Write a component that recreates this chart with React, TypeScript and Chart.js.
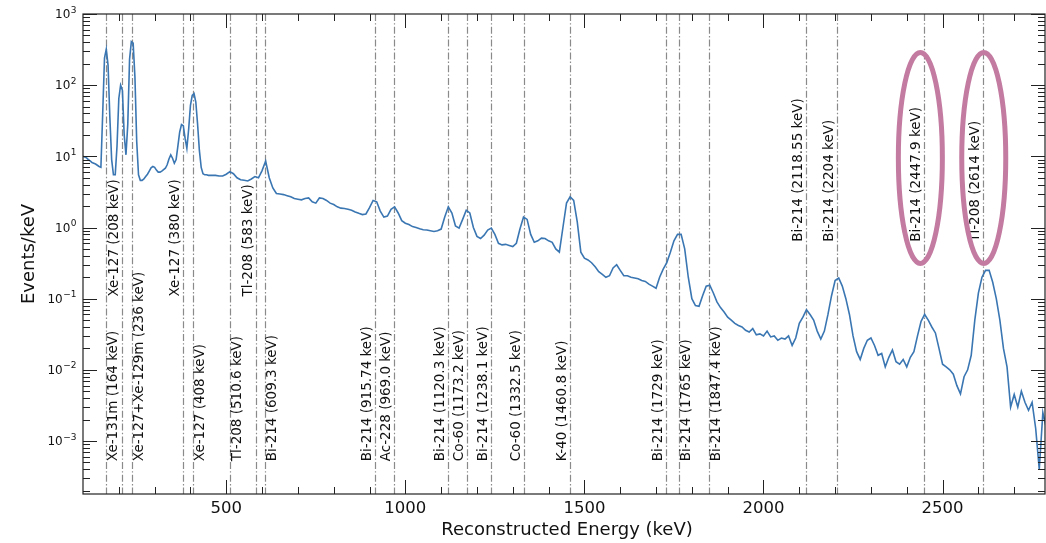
import React, { useEffect, useRef } from "react";
import { Chart, registerables } from "chart.js";

Chart.register(...registerables);

const FONT = "'DejaVu Sans', 'Liberation Sans', sans-serif";
const LINE_COLOR = "#3a76b2";
const MARK_COLOR = "#8a8a8a";
const ELLIPSE_COLOR = "rgb(195,123,161)";

// Energy bin centres (keV)
const energyKeV = [
  100, 105, 110, 115, 120, 125, 130, 135, 140, 145,
  150, 155, 160, 165, 170, 175, 180, 185, 190, 195,
  200, 205, 210, 215, 220, 225, 230, 235, 240, 245,
  250, 255, 260, 265, 270, 275, 280, 285, 290, 295,
  300, 305, 310, 315, 320, 325, 330, 335, 340, 345,
  350, 355, 360, 365, 370, 375, 380, 385, 390, 395,
  400, 405, 410, 415, 420, 425, 430, 435, 440, 445,
  450,
  460, 470, 480, 490, 500, 510, 520, 530, 540, 550,
  560, 570, 580, 590, 600, 610, 620, 630, 640, 650,
  660, 670, 680, 690, 700, 710, 720, 730, 740, 750,
  760, 770, 780, 790, 800, 810, 820, 830, 840, 850,
  860, 870, 880, 890, 900, 910, 920, 930, 940, 950,
  960, 970, 980, 990, 1000, 1010, 1020, 1030, 1040, 1050,
  1060, 1070, 1080, 1090, 1100, 1110, 1120, 1130, 1140, 1150,
  1160, 1170, 1180, 1190, 1200, 1210, 1220, 1230, 1240, 1250,
  1260, 1270, 1280, 1290, 1300, 1310, 1320, 1330, 1340, 1350,
  1360, 1370, 1380, 1390, 1400, 1410, 1420, 1430, 1440, 1450,
  1460, 1470, 1480, 1490, 1500, 1510, 1520, 1530, 1540, 1550,
  1560, 1570, 1580, 1590, 1600, 1610, 1620, 1630, 1640, 1650,
  1660, 1670, 1680, 1690, 1700, 1710, 1720, 1730, 1740, 1750,
  1760, 1770, 1780, 1790, 1800, 1810, 1820, 1830, 1840, 1850,
  1860, 1870, 1880, 1890, 1900, 1910, 1920, 1930, 1940, 1950,
  1960, 1970, 1980, 1990, 2000, 2010, 2020, 2030, 2040, 2050,
  2060, 2070, 2080, 2090, 2100, 2110, 2120, 2130, 2140, 2150,
  2160, 2170, 2180, 2190, 2200, 2210, 2220, 2230, 2240, 2250,
  2260, 2270, 2280, 2290, 2300, 2310, 2320, 2330, 2340, 2350,
  2360, 2370, 2380, 2390, 2400, 2410, 2420, 2430, 2440, 2450,
  2460, 2470, 2480, 2490, 2500, 2510, 2520, 2530, 2540, 2550,
  2560, 2570, 2580, 2590, 2600, 2610, 2620, 2630, 2640, 2650,
  2660, 2670, 2680, 2690, 2700, 2710, 2720, 2730, 2740, 2750,
  2760, 2770, 2780, 2790,
];

// Events per keV in each bin
const eventsPerKeV = [
  10, 9.8, 9.5, 9.0, 8.6, 8.2, 8.0, 7.8, 7.5, 7.2,
  7.0, 40, 240, 320, 190, 35, 9.0, 5.5, 5.5, 14,
  65, 100, 85, 20, 10.5, 28, 230, 410, 390, 130,
  16, 5.5, 4.6, 4.6, 4.8, 5.2, 5.6, 6.2, 6.9, 7.2,
  7.0, 6.4, 6.0, 6.0, 6.2, 6.5, 6.8, 7.6, 9.2, 10.5,
  9.4, 8.0, 9.0, 14, 22, 28, 27, 18, 13, 24,
  52, 72, 76, 58, 28, 12, 7.0, 5.7, 5.5, 5.5,
  5.4,
  5.4, 5.4, 5.3, 5.3, 5.6, 6.1, 5.7, 5.0, 4.7, 4.6,
  4.5, 4.8, 5.2, 5.0, 6.3, 8.6, 5.0, 3.6, 3.0, 2.95,
  2.9, 2.8, 2.7, 2.55, 2.5, 2.45, 2.55, 2.6, 2.3, 2.2,
  2.6, 2.55, 2.4, 2.2, 2.1, 1.95, 1.87, 1.85, 1.8, 1.75,
  1.65, 1.58, 1.52, 1.55, 1.9, 2.4, 2.3, 1.7, 1.4, 1.45,
  1.8, 1.95, 1.6, 1.25, 1.15, 1.1, 1.03, 1.0, 0.96, 0.93,
  0.92, 0.9, 0.88, 0.9, 0.95, 1.4, 1.95, 1.6, 1.05, 0.98,
  1.3, 1.75, 1.6, 1.0, 0.75, 0.7, 0.78, 0.92, 0.98, 0.8,
  0.6, 0.57, 0.58, 0.56, 0.54, 0.6, 0.95, 1.4, 1.3, 0.8,
  0.62, 0.65, 0.71, 0.7, 0.65, 0.62, 0.5, 0.45, 1.0, 2.2,
  2.7, 2.4, 1.2, 0.45, 0.37, 0.35, 0.32, 0.28, 0.24, 0.22,
  0.2, 0.21, 0.27, 0.3, 0.25, 0.21, 0.21, 0.2, 0.195, 0.19,
  0.18, 0.175, 0.16, 0.15, 0.14, 0.2, 0.26, 0.32, 0.45, 0.65,
  0.8, 0.8, 0.5, 0.2, 0.1, 0.08, 0.078, 0.11, 0.15, 0.155,
  0.12, 0.09, 0.075, 0.065, 0.055, 0.05, 0.045, 0.042, 0.04, 0.036,
  0.034, 0.038, 0.031, 0.032, 0.03, 0.035, 0.029, 0.03, 0.026, 0.028,
  0.027, 0.03, 0.022, 0.028, 0.045, 0.055, 0.07, 0.06, 0.05, 0.035,
  0.027, 0.035, 0.06, 0.11, 0.18, 0.195, 0.15, 0.1, 0.06, 0.03,
  0.018, 0.014, 0.02, 0.026, 0.028, 0.022, 0.016, 0.017, 0.011, 0.015,
  0.019, 0.013, 0.012, 0.014, 0.011, 0.015, 0.018, 0.03, 0.048, 0.06,
  0.05, 0.04, 0.033, 0.02, 0.012, 0.011, 0.01, 0.0087, 0.006, 0.0046,
  0.008, 0.01, 0.016, 0.05, 0.12, 0.2, 0.25, 0.25, 0.17, 0.1,
  0.05, 0.02, 0.011, 0.003, 0.0045, 0.003, 0.005, 0.0035, 0.0027, 0.0035,
  0.0015, 0.0004, 0.0025, 0.0015,
];

// Gamma lines (keV), their labels, which side of the line the label sits, and label height group
const lineEnergies = [
  164, 208, 236, 380, 408, 510.6, 583, 609.3,
  915.74, 969.0, 1120.3, 1173.2, 1238.1, 1332.5, 1460.8,
  1729, 1765, 1847.4, 2118.55, 2204, 2447.9, 2614,
];
const lineLabels = [
  "Xe-131m (164 keV)", "Xe-127 (208 keV)", "Xe-127+Xe-129m (236 keV)", "Xe-127 (380 keV)",
  "Xe-127 (408 keV)", "Tl-208 (510.6 keV)", "Tl-208 (583 keV)", "Bi-214 (609.3 keV)",
  "Bi-214 (915.74 keV)", "Ac-228 (969.0 keV)", "Bi-214 (1120.3 keV)", "Co-60 (1173.2 keV)",
  "Bi-214 (1238.1 keV)", "Co-60 (1332.5 keV)", "K-40 (1460.8 keV)",
  "Bi-214 (1729 keV)", "Bi-214 (1765 keV)", "Bi-214 (1847.4 keV)",
  "Bi-214 (2118.55 keV)", "Bi-214 (2204 keV)", "Bi-214 (2447.9 keV)", "Tl-208 (2614 keV)",
];
const labelSide = [
  "R", "L", "R", "L", "R", "R", "L", "R",
  "L", "L", "L", "L", "L", "L", "L",
  "L", "R", "R", "L", "L", "L", "L",
];
const labelLevel = [
  "low", "mid", "low", "mid", "low", "low", "mid", "low",
  "low", "low", "low", "low", "low", "low", "low",
  "low", "low", "low", "top", "top", "top", "top",
];
const levelBaseValue: Record<string, number> = { low: 5.2e-4, mid: 0.107, top: 0.63 };

// Highlight ellipses (centre energy keV, centre value)
const ellipseEnergies = [2438, 2615];
const ellipseCenterValue = 9.5;

// Axes
const xMin = 100;
const xMax = 2786;
const yMin = 1.8e-4;
const yMax = 1000;
const xMajorTicks = [500, 1000, 1500, 2000, 2500];
const xMinorTicks = [200, 300, 400, 600, 700, 800, 900, 1100, 1200, 1300, 1400, 1600, 1700, 1800, 1900, 2100, 2200, 2300, 2400, 2600, 2700];
const yMajorExps = [-3, -2, -1, 0, 1, 2, 3];
const xTitle = "Reconstructed Energy (keV)";
const yTitle = "Events/keV";

export default function App() {
  const ref = useRef<HTMLCanvasElement>(null);

  useEffect(() => {
    const canvas = ref.current!;
    const overlay = {
      id: "overlay",
      beforeDatasetsDraw(chart: any) {
        const ctx = chart.ctx as CanvasRenderingContext2D;
        const { top, bottom } = chart.chartArea;
        const xs = chart.scales.x;
        ctx.save();
        ctx.strokeStyle = MARK_COLOR;
        ctx.lineWidth = 1.2;
        ctx.setLineDash([7, 2.2, 1.4, 2.2]);
        lineEnergies.forEach((e) => {
          const x = Math.round(xs.getPixelForValue(e)) + 0.5;
          ctx.beginPath();
          ctx.moveTo(x, top);
          ctx.lineTo(x, bottom);
          ctx.stroke();
        });
        ctx.restore();
      },
      afterDraw(chart: any) {
        const ctx = chart.ctx as CanvasRenderingContext2D;
        const { left, right, top, bottom } = chart.chartArea;
        const xs = chart.scales.x;
        const ys = chart.scales.y;
        ctx.save();

        // line labels
        ctx.fillStyle = "#111";
        ctx.font = `13.5px ${FONT}`;
        lineEnergies.forEach((e, i) => {
          const x = Math.round(xs.getPixelForValue(e)) + 0.5;
          const yb = ys.getPixelForValue(levelBaseValue[labelLevel[i]]);
          ctx.save();
          const onRight = labelSide[i] === "R";
          ctx.translate(onRight ? x + 0.5 : x - 1, yb);
          ctx.rotate(-Math.PI / 2);
          ctx.textAlign = "left";
          ctx.textBaseline = onRight ? "top" : "bottom";
          ctx.fillText(lineLabels[i], 0, 0);
          ctx.restore();
        });

        // spines
        ctx.strokeStyle = "#222";
        ctx.lineWidth = 1.2;
        ctx.setLineDash([]);
        ctx.strokeRect(left, top, right - left, bottom - top);

        // ticks (inward, all sides)
        ctx.lineWidth = 1;
        const vt = (x: number, len: number) => {
          const px = Math.round(x) + 0.5;
          ctx.beginPath();
          ctx.moveTo(px, bottom);
          ctx.lineTo(px, bottom - len);
          ctx.moveTo(px, top);
          ctx.lineTo(px, top + len);
          ctx.stroke();
        };
        const ht = (y: number, len: number) => {
          const py = Math.round(y) + 0.5;
          ctx.beginPath();
          ctx.moveTo(left, py);
          ctx.lineTo(left + len, py);
          ctx.moveTo(right, py);
          ctx.lineTo(right - len, py);
          ctx.stroke();
        };
        xMajorTicks.forEach((v) => vt(xs.getPixelForValue(v), 14));
        xMinorTicks.forEach((v) => vt(xs.getPixelForValue(v), 7));
        yMajorExps.forEach((e) => ht(ys.getPixelForValue(Math.pow(10, e)), 14));
        for (let e = -4; e <= 2; e++) {
          for (let m = 2; m <= 9; m++) {
            const v = m * Math.pow(10, e);
            if (v > yMin && v < yMax) ht(ys.getPixelForValue(v), 7);
          }
        }

        // x tick labels
        ctx.fillStyle = "#111";
        ctx.font = `16.5px ${FONT}`;
        ctx.textAlign = "center";
        ctx.textBaseline = "alphabetic";
        xMajorTicks.forEach((v) => ctx.fillText(String(v), xs.getPixelForValue(v), bottom + 19));

        // y tick labels 10^n
        yMajorExps.forEach((e) => {
          const y = ys.getPixelForValue(Math.pow(10, e));
          const sup = e < 0 ? "\u2212" + String(-e) : String(e);
          const rx = left - 6.5;
          ctx.textAlign = "right";
          ctx.textBaseline = "alphabetic";
          ctx.font = `9px ${FONT}`;
          const sw = ctx.measureText(sup).width;
          ctx.fillText(sup, rx, y - 1.5);
          ctx.font = `12px ${FONT}`;
          ctx.fillText("10", rx - sw - 0.5, y + 4.3);
        });

        // axis titles
        ctx.font = `18px ${FONT}`;
        ctx.textAlign = "center";
        ctx.textBaseline = "alphabetic";
        ctx.fillText(xTitle, (left + right) / 2 + 3, bottom + 41);
        ctx.save();
        ctx.translate(33.5, (top + bottom) / 2);
        ctx.rotate(-Math.PI / 2);
        ctx.fillText(yTitle, 0, 0);
        ctx.restore();

        // highlight ellipses
        ctx.strokeStyle = ELLIPSE_COLOR;
        ctx.lineWidth = 5;
        ellipseEnergies.forEach((e) => {
          ctx.beginPath();
          ctx.ellipse(xs.getPixelForValue(e), ys.getPixelForValue(ellipseCenterValue), 22, 105.5, 0, 0, Math.PI * 2);
          ctx.stroke();
        });

        ctx.restore();
      },
    };

    const chart = new Chart(canvas, {
      type: "line",
      data: {
        datasets: [
          {
            data: energyKeV.map((e, i) => ({ x: e, y: eventsPerKeV[i] })),
            borderColor: LINE_COLOR,
            borderWidth: 1.6,
            pointRadius: 0,
            tension: 0,
            fill: false,
          },
        ],
      },
      options: {
        responsive: false,
        animation: false,
        devicePixelRatio: 1,
        events: [],
        layout: { padding: { left: 83, top: 14, right: 1, bottom: 49 } },
        plugins: { legend: { display: false }, tooltip: { enabled: false } },
        scales: {
          x: { type: "linear", min: xMin, max: xMax, display: false },
          y: { type: "logarithmic", min: yMin, max: yMax, display: false },
        },
      },
      plugins: [overlay],
    } as any);

    return () => chart.destroy();
  }, []);

  return (
    <canvas
      ref={ref}
      width={1046}
      height={543}
      style={{ position: "absolute", left: 0, top: 0 }}
    />
  );
}
